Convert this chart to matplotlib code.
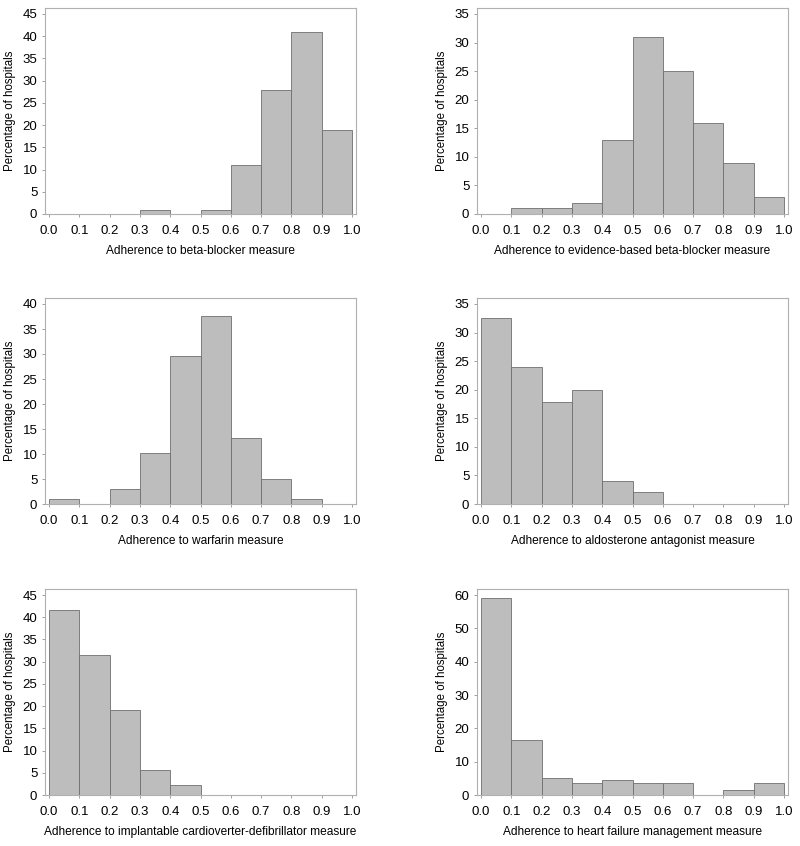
import matplotlib.pyplot as plt
import numpy as np

plt.rcParams['font.family'] = ['Liberation Sans', 'DejaVu Sans']

bin_edges = np.round(np.arange(0, 1.01, 0.1), 1)
x_ticks = np.round(np.arange(0, 1.01, 0.1), 1)

beta_blocker = [0, 0, 0, 1, 0, 1, 11, 28, 41, 19]
evidence_beta_blocker = [0, 1, 1, 2, 13, 31, 25, 16, 9, 3]
warfarin = [1, 0, 3, 10.2, 29.5, 37.6, 13.2, 5.0, 1.0, 0]
aldosterone = [32.5, 24.0, 17.8, 19.9, 4.1, 2.1, 0, 0, 0, 0]
icd = [41.7, 31.6, 19.2, 5.7, 2.3, 0, 0, 0, 0, 0]
heart_failure = [59, 16.5, 5.1, 3.7, 4.4, 3.7, 3.7, 0, 1.5, 3.7]

panels = [
    (beta_blocker, 'Adherence to beta-blocker measure', 45, 5),
    (evidence_beta_blocker, 'Adherence to evidence-based beta-blocker measure', 35, 5),
    (warfarin, 'Adherence to warfarin measure', 40, 5),
    (aldosterone, 'Adherence to aldosterone antagonist measure', 35, 5),
    (icd, 'Adherence to implantable cardioverter-defibrillator measure', 45, 5),
    (heart_failure, 'Adherence to heart failure management measure', 60, 10),
]

fig = plt.figure(figsize=(8, 8.46), dpi=100)

lefts = [45 / 800, 477 / 800]
width = 311 / 800
bottoms = [1 - 214 / 846, 1 - 504 / 846, 1 - 795 / 846]
height = 206 / 846

for i, (vals, label, ymax, ystep) in enumerate(panels):
    row, col = divmod(i, 2)
    ax = fig.add_axes([lefts[col], bottoms[row], width, height])
    ax.bar(bin_edges[:-1], vals, width=0.1, align='edge',
           color='#bdbdbd', edgecolor='#6e6e6e', linewidth=0.6)
    ax.set_xlim(-0.013, 1.013)
    ax.set_ylim(0, ymax * 1.03)
    ax.set_xticks(x_ticks)
    ax.set_xticklabels([f'{t:.1f}' for t in x_ticks])
    ax.set_yticks(np.arange(0, ymax + 1, ystep))
    for s in ax.spines.values():
        s.set_color('#b0b0b0')
        s.set_linewidth(0.8)
    ax.tick_params(axis='both', length=2, width=0.6, color='#909090',
                   labelsize=9.5)
    ax.tick_params(axis='x', pad=6)
    ax.set_xlabel(label, fontsize=8.6, labelpad=6)
    ax.set_ylabel('Percentage of hospitals', fontsize=8.3, labelpad=5)

fig.savefig('out.png', dpi=100)
